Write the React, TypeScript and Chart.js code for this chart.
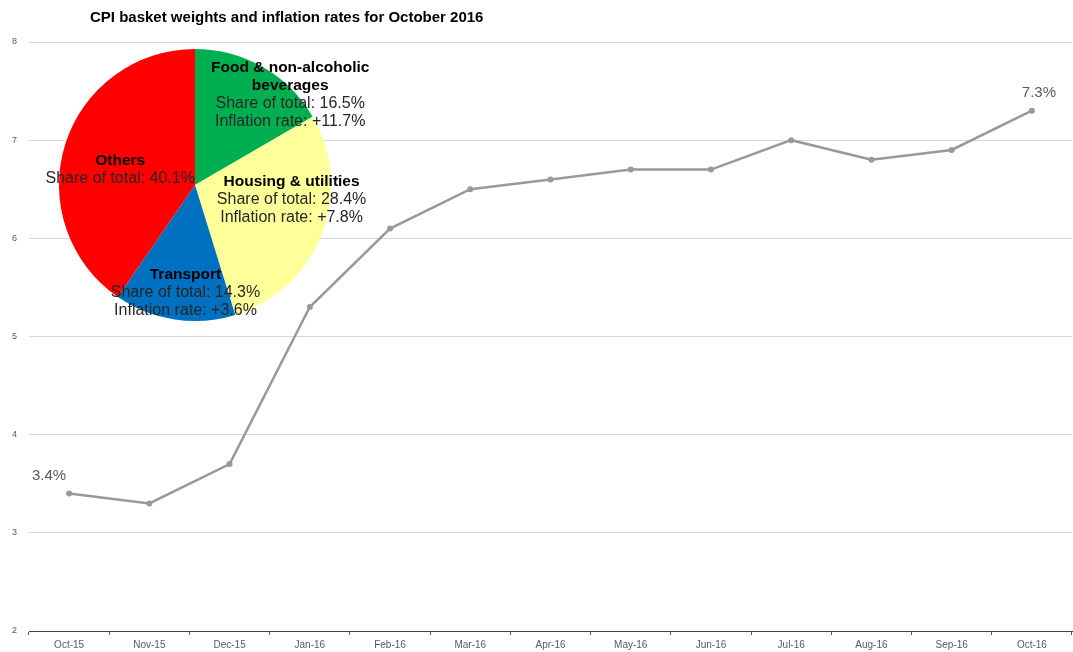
import React, { useEffect, useRef } from "react";
import { Chart, registerables } from "chart.js";

Chart.register(...registerables);

const months = ["Oct-15", "Nov-15", "Dec-15", "Jan-16", "Feb-16", "Mar-16", "Apr-16", "May-16", "Jun-16", "Jul-16", "Aug-16", "Sep-16", "Oct-16"];
const inflation = [3.4, 3.3, 3.7, 5.3, 6.1, 6.5, 6.6, 6.7, 6.7, 7.0, 6.8, 6.9, 7.3];
const labelledPoints = [0, 12];

const pieCategories = ["Food & non-alcoholic beverages", "Housing & utilities", "Transport", "Others"];
const pieShares = [16.5, 28.4, 14.3, 40.1];
const pieInflation = ["+11.7%", "+7.8%", "+3.6%", null];
const pieColors = ["#00B050", "#FFFF99", "#0070C0", "#FF0000"];
const pieNameLines = [["Food & non-alcoholic", "beverages"], ["Housing & utilities"], ["Transport"], ["Others"]];
// label anchor offsets from pie centre, in radius units
const pieLabelOffsets = [[0.7, -0.665], [0.71, 0.11], [-0.07, 0.79], [-0.55, -0.11]];

const TITLE = "CPI basket weights and inflation rates for October 2016";
const FONT = "'Liberation Sans', Arial, sans-serif";

export default function App() {
  const lineRef = useRef<HTMLCanvasElement>(null);
  const pieRef = useRef<HTMLCanvasElement>(null);

  useEffect(() => {
    const titlePlugin = {
      id: "customTitle",
      afterDraw(chart: any) {
        const ctx = chart.ctx;
        ctx.save();
        ctx.font = `bold 15px ${FONT}`;
        ctx.fillStyle = "#000";
        ctx.textAlign = "left";
        ctx.textBaseline = "middle";
        ctx.fillText(TITLE, 90, 18);
        ctx.restore();
      },
    };
    const pointLabels = {
      id: "pointLabels",
      afterDatasetsDraw(chart: any) {
        const ctx = chart.ctx;
        const meta = chart.getDatasetMeta(0);
        ctx.save();
        ctx.font = `15px ${FONT}`;
        ctx.fillStyle = "#595959";
        ctx.textAlign = "center";
        ctx.textBaseline = "middle";
        labelledPoints.forEach((i, k) => {
          const p = meta.data[i];
          const dx = k === 0 ? -20 : 7;
          ctx.fillText(inflation[i].toFixed(1) + "%", p.x + dx, p.y - 18);
        });
        ctx.restore();
      },
    };

    const line = new Chart(lineRef.current!, {
      type: "line",
      data: {
        labels: months,
        datasets: [
          {
            data: inflation,
            borderColor: "#999999",
            backgroundColor: "#999999",
            borderWidth: 2.5,
            pointRadius: 3,
            pointBackgroundColor: "#999999",
            pointBorderWidth: 0,
            tension: 0,
          },
        ],
      },
      options: {
        animation: false,
        responsive: true,
        maintainAspectRatio: false,
        layout: { padding: { top: 42, right: 0, bottom: 0, left: 0 } },
        plugins: { legend: { display: false }, tooltip: { enabled: false }, title: { display: false } },
        scales: {
          x: {
            offset: true,
            grid: { drawOnChartArea: false, drawTicks: true, tickLength: 4, offset: true, color: "#595959" },
            border: { color: "#404040", width: 1 },
            ticks: { font: { size: 10, family: FONT }, color: "#595959", padding: 4, maxRotation: 0, autoSkip: false },
            afterFit(scale: any) {
              scale.height = 21;
            },
          },
          y: {
            min: 2,
            max: 8,
            ticks: { stepSize: 1, font: { size: 9, family: FONT }, color: "#595959", padding: 12 },
            grid: { color: "#d9d9d9", drawTicks: false, lineWidth: 1 },
            border: { display: false },
            afterFit(scale: any) {
              scale.width = 29;
            },
          },
        },
      },
      plugins: [titlePlugin, pointLabels],
    });

    const pieLabels = {
      id: "pieLabels",
      afterDatasetsDraw(chart: any) {
        const ctx = chart.ctx;
        const meta = chart.getDatasetMeta(0);
        const arc = meta.data[0];
        const cx = arc.x, cy = arc.y, r = arc.outerRadius;
        const lh = 18;
        ctx.save();
        ctx.textAlign = "center";
        ctx.textBaseline = "middle";
        pieCategories.forEach((_, i) => {
          const lines: { t: string; bold: boolean }[] = [];
          pieNameLines[i].forEach((t) => lines.push({ t, bold: true }));
          lines.push({ t: `Share of total: ${pieShares[i].toFixed(1)}%`, bold: false });
          if (pieInflation[i]) lines.push({ t: `Inflation rate: ${pieInflation[i]}`, bold: false });
          const ax = cx + pieLabelOffsets[i][0] * r;
          const ay = cy + pieLabelOffsets[i][1] * r;
          const startY = ay - ((lines.length - 1) * lh) / 2;
          lines.forEach((l, j) => {
            ctx.font = l.bold ? `bold 15.5px ${FONT}` : `16px ${FONT}`;
            ctx.fillStyle = l.bold ? "#000" : "#262626";
            ctx.fillText(l.t, ax, startY + j * lh);
          });
        });
        ctx.restore();
      },
    };

    const pie = new Chart(pieRef.current!, {
      type: "pie",
      data: {
        labels: pieCategories,
        datasets: [{ data: pieShares, backgroundColor: pieColors, borderWidth: 0 }],
      },
      options: {
        animation: false,
        responsive: false,
        maintainAspectRatio: false,
        layout: { padding: { left: 59, right: 69, top: 14, bottom: 14 } },
        plugins: { legend: { display: false }, tooltip: { enabled: false } },
      },
      plugins: [pieLabels],
    });

    return () => {
      line.destroy();
      pie.destroy();
    };
  }, []);

  return (
    <div style={{ position: "fixed", left: 0, top: 0, width: 1073, height: 652, background: "#fff", overflow: "hidden" }}>
      <div style={{ position: "absolute", left: 0, top: 0, width: 1076, height: 652 }}>
        <canvas ref={lineRef} />
      </div>
      <canvas ref={pieRef} width={400} height={300} style={{ position: "absolute", left: 0, top: 35, width: 400, height: 300 }} />
    </div>
  );
}
